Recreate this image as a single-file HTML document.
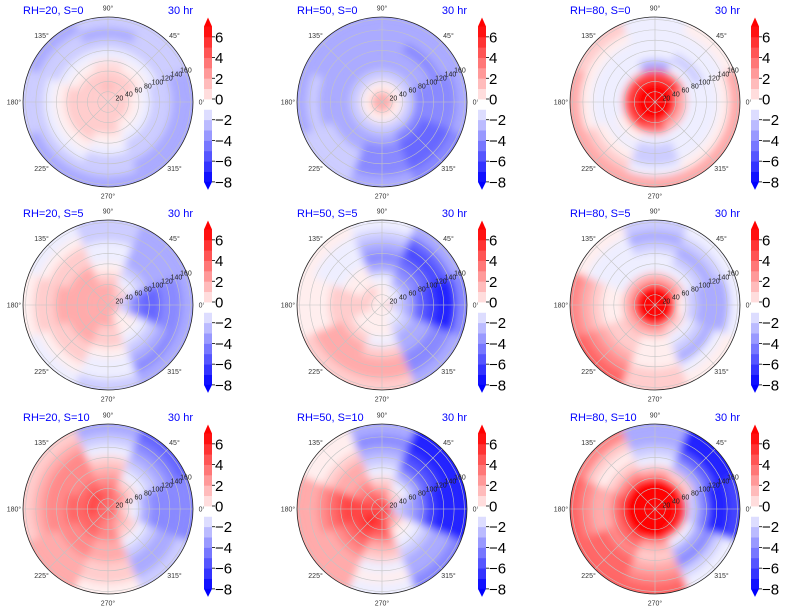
<!DOCTYPE html>
<html><head><meta charset="utf-8"><style>
html,body{margin:0;padding:0;background:#fff;}
svg{display:block;font-family:"Liberation Sans",sans-serif;}
</style></head><body>
<svg id="fig" width="787" height="612" viewBox="0 0 787 612" xmlns="http://www.w3.org/2000/svg">
<defs>
<filter id="blur" x="-20%" y="-20%" width="140%" height="140%"><feGaussianBlur stdDeviation="4"/></filter>
</defs>
</svg>
<script>
const titles = ["RH=20, S=0","RH=50, S=0","RH=80, S=0","RH=20, S=5","RH=50, S=5","RH=80, S=5","RH=20, S=10","RH=50, S=10","RH=80, S=10"];
const sectorAngles = [0,45,90,135,180,225,270,315];
const radialTicks = [20,40,60,80,100,120,140,160];
const angleTicks = [0,45,90,135,180,225,270,315];
const cbarTicks = [6,4,2,0,-2,-4,-6,-8];
const levelMin = -8, levelMax = 7;
const p1 = [[1,1,1,1,1,1,1,1],[1,1,1.5,1,1,1,1,1],[0,1,1,1,1,1,1,0],[-1,0,0.5,0,1,1,0,-1],[-2,-1,-1,-1,0,0,-1,-2],[-2,-2,-2,-2,-1,-1,-2,-2],[-3,-2,-3,-2,-2,-2,-2,-3],[-3,-2,-2,-3,-2,-3,-3,-3]];
const p2 = [[2,2,2,2,2,2,2,2],[0,0,0,0,0,0,0,0],[-2,-2,-2,-2,-2,-2,-2,-2],[-4,-3,-3,-3,-3,-3,-3,-4],[-4,-3,-3,-3,-3,-3,-4,-5],[-4,-4,-3,-3,-3,-2,-4,-5],[-4,-3,-3,-3,-2,-2,-4,-5],[-3,-3,-3,-3,-3,-2,-3,-4]];
const p3 = [[8,8,8,8,8,8,8,8],[8,8,8,8,8,8,8,8],[2,5,5,5,5,5,4,2],[-1,-1,-3,-1,-1,0,-1,-1],[-1,-2,-1,-1,-1,-1,-2,-1],[-1,-1,-1,-1,-1,0,-2,-1],[0,-1,-1,0,0,1,-1,0],[2,0,-1,1,2,2,2,2]];
const p4 = [[2,2,2,2,2,2,2,2],[-2,1,2,2,2,2,2,0],[-4,-1,1,2,2,2,1,0],[-5,-2,0,2,2,2,1,-1],[-5,-3,-1,1,2,1,0,-2],[-4,-3,-1,1,1,1,-1,-3],[-4,-3,-2,0,1,0,-1,-4],[-3,-3,-2,-1,0,-1,-2,-3]];
const p5 = [[1,0,0,0,0,0,0,0],[-2,-1,0,1,1,0,0,-1],[-3,-3,-1,0,1,0,0,-2],[-5,-4,-3,0,1,1,-1,-3],[-6,-5,-4,-1,1,2,1,-3],[-7,-6,-3,-1,0,2,2,-4],[-7,-5,-2,-1,0,2,2,-4],[-4,-3,-1,0,0,1,1,-3]];
const p6 = [[8,8,8,8,8,8,8,8],[8,8,8,8,8,8,8,8],[0,2,2,2,2,2,2,1],[-2,-1,-1,-1,0,1,0,-1],[-3,-2,-1,-1,0,1,0,-2],[-3,-3,-2,-1,1,2,0,-3],[-3,-2,-3,-1,2,3,1,-1],[-1,-1,-2,0,3,4,1,0]];
const p7 = [[4,4,4,4,4,4,4,4],[1,3,4,5,5,4,3,2],[-1,1,3,4,4,4,3,1],[-3,-1,2,3,4,3,2,-1],[-4,-2,1,3,3,3,2,-2],[-4,-3,-1,3,3,2,1,-3],[-4,-4,-2,2,2,2,1,-3],[-4,-5,-3,1,1,2,0,-2]];
const p8 = [[5,5,5,5,5,5,5,5],[-2,1,3,4,5,6,5,2],[-3,-1,1,3,5,5,4,0],[-4,-3,-1,2,5,4,2,-1],[-6,-5,-2,2,4,3,1,-2],[-7,-6,-3,1,3,2,-1,-3],[-7,-7,-4,0,2,2,0,-3],[-7,-7,-3,0,2,2,-1,-4]];
const p9 = [[8,8,8,8,8,8,8,8],[8,8,8,8,8,8,8,8],[6,8,8,8,8,8,8,6],[-2,1,2,3,4,4,2,-1],[-4,-3,-1,1,2,3,1,-3],[-7,-5,-2,0,2,4,2,-4],[-7,-7,-3,1,3,4,3,-2],[-6,-7,-3,3,4,4,4,-1]];
const fields = [p1,p2,p3,p4,p5,p6,p7,p8,p9];

const NS = "http://www.w3.org/2000/svg";
const svg = document.getElementById('fig');
const colOff = [0,274,547], rowOff = [0,203,407];
const CX = 108, CY = 102, R = 85, RMAX = 165;
function mk(tag, attrs, parent){const e=document.createElementNS(NS,tag);for(const k in attrs)e.setAttribute(k,attrs[k]);parent.appendChild(e);return e;}
function color(v){
  v=Math.max(levelMin,Math.min(levelMax,v));
  const t=(v-levelMin)/(levelMax-levelMin);
  let r,g,b;
  if(t<0.5){r=g=Math.round(255*2*t);b=255;}else{r=255;g=b=Math.round(255*2*(1-t));}
  return `rgb(${r},${g},${b})`;
}
function rScale(v){return v/RMAX*R;}
function pt(cx,cy,r,deg){const a=deg*Math.PI/180;return [cx+r*Math.cos(a),cy-r*Math.sin(a)];}

fields.forEach((f,i)=>{
  const ox=colOff[i%3], oy=rowOff[Math.floor(i/3)];
  const cx=CX+ox, cy=CY+oy;
  const g=mk('g',{},svg);
  
  
  const cid='clip'+i;
  const cp=mk('clipPath',{id:cid},g);
  mk('circle',{cx:cx,cy:cy,r:R},cp);
  const clipG=mk('g',{'clip-path':`url(#${cid})`},g);
  const field=mk('g',{filter:'url(#blur)'},clipG);
  
  
  const nR=f.length, step=360/sectorAngles.length;
  for(let ri=0;ri<nR;ri++){
    const r0=R*ri/nR, r1=R*(ri+1)/nR*(ri===nR-1?1.25:1);
    for(let si=0;si<sectorAngles.length;si++){
      const a0=sectorAngles[si]-step/2, a1=sectorAngles[si]+step/2+0.5;
      const p0=pt(cx,cy,r0,a0),p1_=pt(cx,cy,r1,a0),p2_=pt(cx,cy,r1,a1),p3_=pt(cx,cy,r0,a1);
      const d=`M${p0}L${p1_}A${r1},${r1} 0 0 0 ${p2_}L${p3_}`+(r0>0?`A${r0},${r0} 0 0 1 ${p0}`:'')+'Z';
      const w=mk('path',{d:d,fill:color(f[ri][si])},field);
      
      
    }
  }
  radialTicks.forEach(v=>{const c=mk('circle',{cx:cx,cy:cy,r:rScale(v),fill:'none',stroke:'#c4c4c4','stroke-width':0.6},g);
    });
  angleTicks.forEach(a=>{const p=pt(cx,cy,R,a);const l=mk('line',{x1:cx,y1:cy,x2:p[0],y2:p[1],stroke:'#c4c4c4','stroke-width':0.6},g);
    });
  const rim=mk('circle',{cx:cx,cy:cy,r:R,fill:'none',stroke:'#222','stroke-width':0.8},g);
  
  radialTicks.forEach(v=>{const p=pt(cx,cy,rScale(v)+2,22.5);const t=mk('text',{x:p[0],y:p[1]+3,'font-size':7,fill:'#222','text-anchor':'middle'},g);t.textContent=v;
    });
  angleTicks.forEach(a=>{const p=pt(cx,cy,R+9,a);const t=mk('text',{x:p[0],y:p[1]+2.5,'font-size':7,fill:'#333','text-anchor':'middle'},g);t.textContent=a+'°';
    });
  const tl=mk('text',{x:23+ox,y:14+oy,'font-size':11,fill:'#0000ff'},g);tl.textContent=titles[i];
  
  const tr=mk('text',{x:193+ox,y:14+oy,'font-size':11,fill:'#0000ff','text-anchor':'end'},g);tr.textContent='30 hr';
  
  const cb=mk('g',{},g);
  
  const bx=204+ox, bw=8;
  const yv=v=>99+oy-(v*10.36);
  for(let v=levelMin;v<levelMax;v++){
    const r=mk('rect',{x:bx,y:yv(v+1),width:bw,height:yv(v)-yv(v+1)+0.4,fill:color(v+0.5)},cb);
    
  }
  const up=mk('path',{d:`M${bx},${yv(levelMax)}L${bx+bw/2},${yv(levelMax)-9}L${bx+bw},${yv(levelMax)}Z`,fill:color(levelMax)},cb);
  
  const dn=mk('path',{d:`M${bx},${yv(levelMin)}L${bx+bw/2},${yv(levelMin)+8}L${bx+bw},${yv(levelMin)}Z`,fill:color(levelMin)},cb);
  
  cbarTicks.forEach(v=>{
    mk('line',{x1:bx+bw,x2:bx+bw+3,y1:yv(v),y2:yv(v),stroke:'#000','stroke-width':0.8},cb);
    const t=mk('text',{x:bx+bw+3,y:yv(v)+5.5,'font-size':15,fill:'#000'},cb);t.textContent=v<0?'\u2212'+(-v):String(v);
    
  });
});
</script>
</body></html>
